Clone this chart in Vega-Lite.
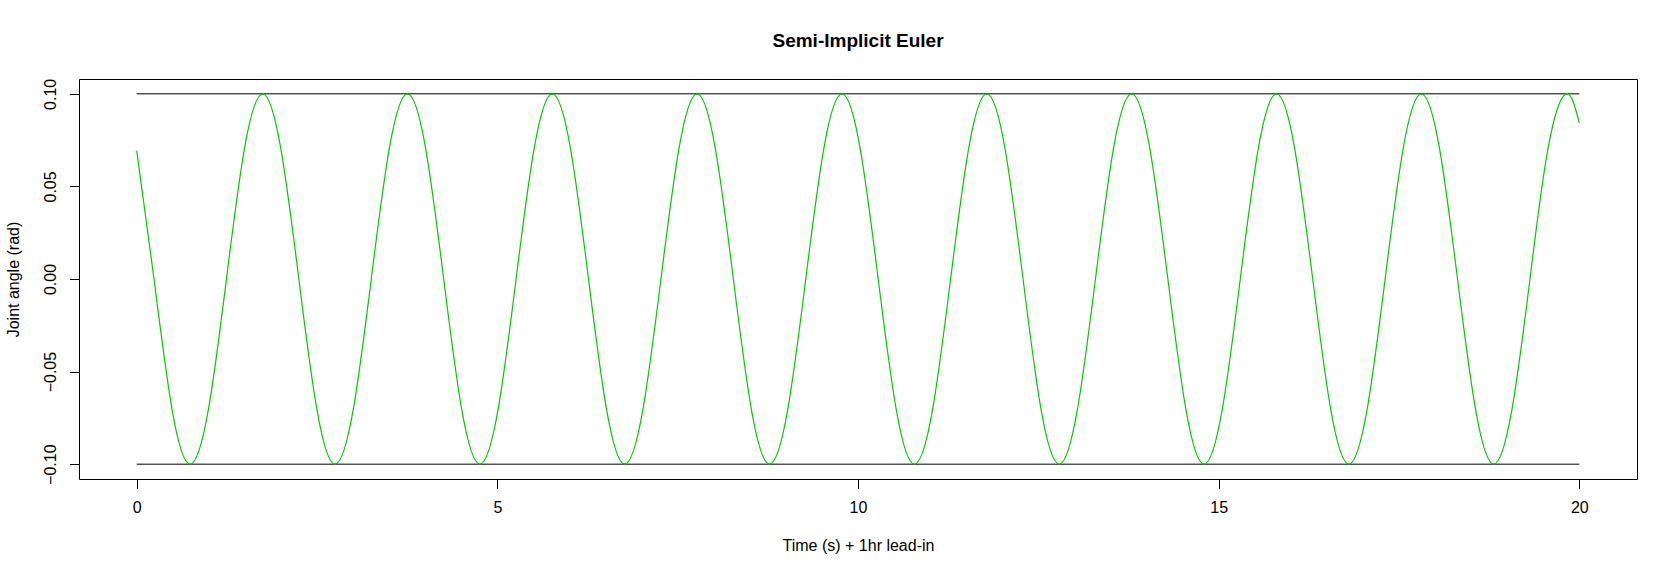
{
  "$schema": "https://vega.github.io/schema/vega-lite/v6.json",
  "width": 1558,
  "height": 400,
  "autosize": {"type": "none"},
  "padding": {"left": 79, "top": 79, "right": 40, "bottom": 97},
  "background": "white",
  "title": {
    "text": "Semi-Implicit Euler",
    "font": "Liberation Sans",
    "fontSize": 19,
    "fontWeight": "bold",
    "color": "black",
    "anchor": "middle",
    "baseline": "alphabetic",
    "offset": 12.5
  },
  "config": {
    "view": {"stroke": "black", "strokeWidth": 1},
    "axis": {
      "grid": false,
      "domain": false,
      "tickColor": "black",
      "tickSize": 9.6,
      "labelColor": "black",
      "labelFont": "Liberation Sans",
      "labelFontSize": 16,
      "titleFont": "Liberation Sans",
      "titleFontSize": 16,
      "titleFontWeight": "normal",
      "titleColor": "black"
    }
  },
  "datasets": {
    "sim": [
      {"t": 0, "angle": 0.0693},
      {"t": 0.240, "angle": 0}, {"t": 0.491, "angle": -0.0707}, {"t": 0.742, "angle": -0.1}, {"t": 0.993, "angle": -0.0707},
      {"t": 1.244, "angle": 0}, {"t": 1.495, "angle": 0.0707}, {"t": 1.746, "angle": 0.1}, {"t": 1.997, "angle": 0.0707},
      {"t": 2.248, "angle": 0}, {"t": 2.499, "angle": -0.0707}, {"t": 2.750, "angle": -0.1}, {"t": 3.001, "angle": -0.0707},
      {"t": 3.252, "angle": 0}, {"t": 3.503, "angle": 0.0707}, {"t": 3.754, "angle": 0.1}, {"t": 4.005, "angle": 0.0707},
      {"t": 4.256, "angle": 0}, {"t": 4.507, "angle": -0.0707}, {"t": 4.758, "angle": -0.1}, {"t": 5.009, "angle": -0.0707},
      {"t": 5.260, "angle": 0}, {"t": 5.511, "angle": 0.0707}, {"t": 5.762, "angle": 0.1}, {"t": 6.013, "angle": 0.0707},
      {"t": 6.264, "angle": 0}, {"t": 6.515, "angle": -0.0707}, {"t": 6.766, "angle": -0.1}, {"t": 7.017, "angle": -0.0707},
      {"t": 7.268, "angle": 0}, {"t": 7.519, "angle": 0.0707}, {"t": 7.770, "angle": 0.1}, {"t": 8.021, "angle": 0.0707},
      {"t": 8.272, "angle": 0}, {"t": 8.523, "angle": -0.0707}, {"t": 8.774, "angle": -0.1}, {"t": 9.025, "angle": -0.0707},
      {"t": 9.276, "angle": 0}, {"t": 9.527, "angle": 0.0707}, {"t": 9.778, "angle": 0.1}, {"t": 10.029, "angle": 0.0707},
      {"t": 10.280, "angle": 0}, {"t": 10.531, "angle": -0.0707}, {"t": 10.782, "angle": -0.1}, {"t": 11.033, "angle": -0.0707},
      {"t": 11.284, "angle": 0}, {"t": 11.535, "angle": 0.0707}, {"t": 11.786, "angle": 0.1}, {"t": 12.037, "angle": 0.0707},
      {"t": 12.288, "angle": 0}, {"t": 12.539, "angle": -0.0707}, {"t": 12.790, "angle": -0.1}, {"t": 13.041, "angle": -0.0707},
      {"t": 13.292, "angle": 0}, {"t": 13.543, "angle": 0.0707}, {"t": 13.794, "angle": 0.1}, {"t": 14.045, "angle": 0.0707},
      {"t": 14.296, "angle": 0}, {"t": 14.547, "angle": -0.0707}, {"t": 14.798, "angle": -0.1}, {"t": 15.049, "angle": -0.0707},
      {"t": 15.300, "angle": 0}, {"t": 15.551, "angle": 0.0707}, {"t": 15.802, "angle": 0.1}, {"t": 16.053, "angle": 0.0707},
      {"t": 16.304, "angle": 0}, {"t": 16.555, "angle": -0.0707}, {"t": 16.806, "angle": -0.1}, {"t": 17.057, "angle": -0.0707},
      {"t": 17.308, "angle": 0}, {"t": 17.559, "angle": 0.0707}, {"t": 17.810, "angle": 0.1}, {"t": 18.061, "angle": 0.0707},
      {"t": 18.312, "angle": 0}, {"t": 18.563, "angle": -0.0707}, {"t": 18.814, "angle": -0.1}, {"t": 19.065, "angle": -0.0707},
      {"t": 19.316, "angle": 0}, {"t": 19.567, "angle": 0.0707}, {"t": 19.818, "angle": 0.1}, {"t": 20, "angle": 0.0843}
    ],
    "limits": [
      {"start": 0, "end": 20, "limit": 0.1},
      {"start": 0, "end": 20, "limit": -0.1}
    ]
  },
  "layer": [
    {
      "data": {"name": "limits"},
      "mark": {"type": "rule", "color": "black", "strokeWidth": 1},
      "encoding": {
        "x": {"field": "start", "type": "quantitative", "scale": {"domain": [-0.8, 20.8], "nice": false, "zero": false}},
        "x2": {"field": "end"},
        "y": {"field": "limit", "type": "quantitative", "scale": {"domain": [-0.108, 0.108], "nice": false, "zero": false}}
      }
    },
    {
      "data": {"name": "sim"},
      "mark": {"type": "line", "color": "#00CD00", "strokeWidth": 1.2, "interpolate": "natural"},
      "encoding": {
        "x": {
          "field": "t", "type": "quantitative",
          "scale": {"domain": [-0.8, 20.8], "nice": false, "zero": false},
          "axis": {
            "title": "Time (s) + 1hr lead-in",
            "values": [0, 5, 10, 15, 20],
            "format": "d",
            "labelBaseline": "alphabetic",
            "labelPadding": 23.7,
            "titleBaseline": "alphabetic",
            "titleY": 71
          }
        },
        "y": {
          "field": "angle", "type": "quantitative",
          "scale": {"domain": [-0.108, 0.108], "nice": false, "zero": false},
          "axis": {
            "title": "Joint angle (rad)",
            "values": [-0.1, -0.05, 0, 0.05, 0.1],
            "format": ".2f",
            "labelAngle": -90,
            "labelAlign": "center",
            "labelBaseline": "alphabetic",
            "labelPadding": 14.4,
            "titleAngle": -90,
            "titleAlign": "center",
            "titleBaseline": "alphabetic",
            "titleX": -60.2,
            "titleY": 200
          }
        }
      }
    }
  ]
}
